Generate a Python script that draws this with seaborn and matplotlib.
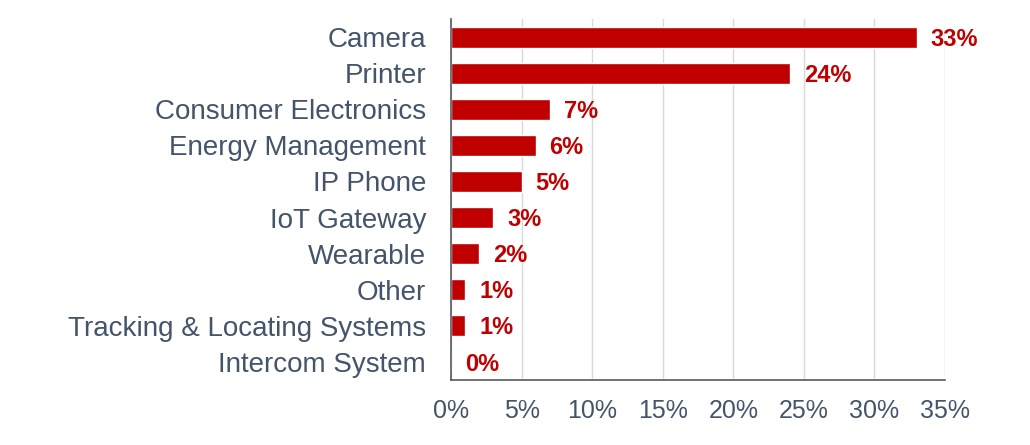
import matplotlib
matplotlib.use("Agg")
import matplotlib.pyplot as plt
import seaborn as sns
import pandas as pd
from matplotlib.ticker import FuncFormatter

categories = ["Camera", "Printer", "Consumer Electronics", "Energy Management",
              "IP Phone", "IoT Gateway", "Wearable", "Other",
              "Tracking & Locating Systems", "Intercom System"]
values = [33, 24, 7, 6, 5, 3, 2, 1, 1, 0]
xticks = [0, 5, 10, 15, 20, 25, 30, 35]

sns.set_theme(style="white")
plt.rcParams['font.family'] = ['Liberation Sans', 'DejaVu Sans']

df = pd.DataFrame({"category": categories, "value": values})

fig = plt.figure(figsize=(10.3, 4.45), dpi=100)
ax = fig.add_axes([451/1030, 1 - 380/445, (945-451)/1030, (380-19)/445])

bar_color = "#C00000"
text_color = "#44546A"

sns.barplot(data=df, x="value", y="category", orient="h", color=bar_color,
            width=0.58, ax=ax, saturation=1)

ax.set_xlim(0, 35)
ax.set_ylim(len(categories) - 0.5, -0.5)
ax.set_xticks(xticks)
ax.xaxis.set_major_formatter(FuncFormatter(lambda v, p: f"{int(v)}%"))
ax.set_xlabel("")
ax.set_ylabel("")
ax.grid(axis="x", color="#D9D9D9", linewidth=1)
ax.set_axisbelow(True)
for s in ["top", "right"]:
    ax.spines[s].set_visible(False)
ax.spines["left"].set_color("#595959")
ax.spines["bottom"].set_color("#595959")
ax.spines["left"].set_linewidth(1.2)
ax.spines["bottom"].set_linewidth(1.2)
ax.tick_params(axis="x", length=0, labelsize=18, colors=text_color, pad=14)
ax.tick_params(axis="y", length=0, labelsize=20, colors=text_color, pad=18)

for i, v in enumerate(values):
    ax.annotate(f"{v}%", xy=(v, i), xytext=(10, -1.5), textcoords="offset points",
                va="center", ha="left", fontsize=17, fontweight="bold", color=bar_color)

fig.savefig("out.png", dpi=100)
